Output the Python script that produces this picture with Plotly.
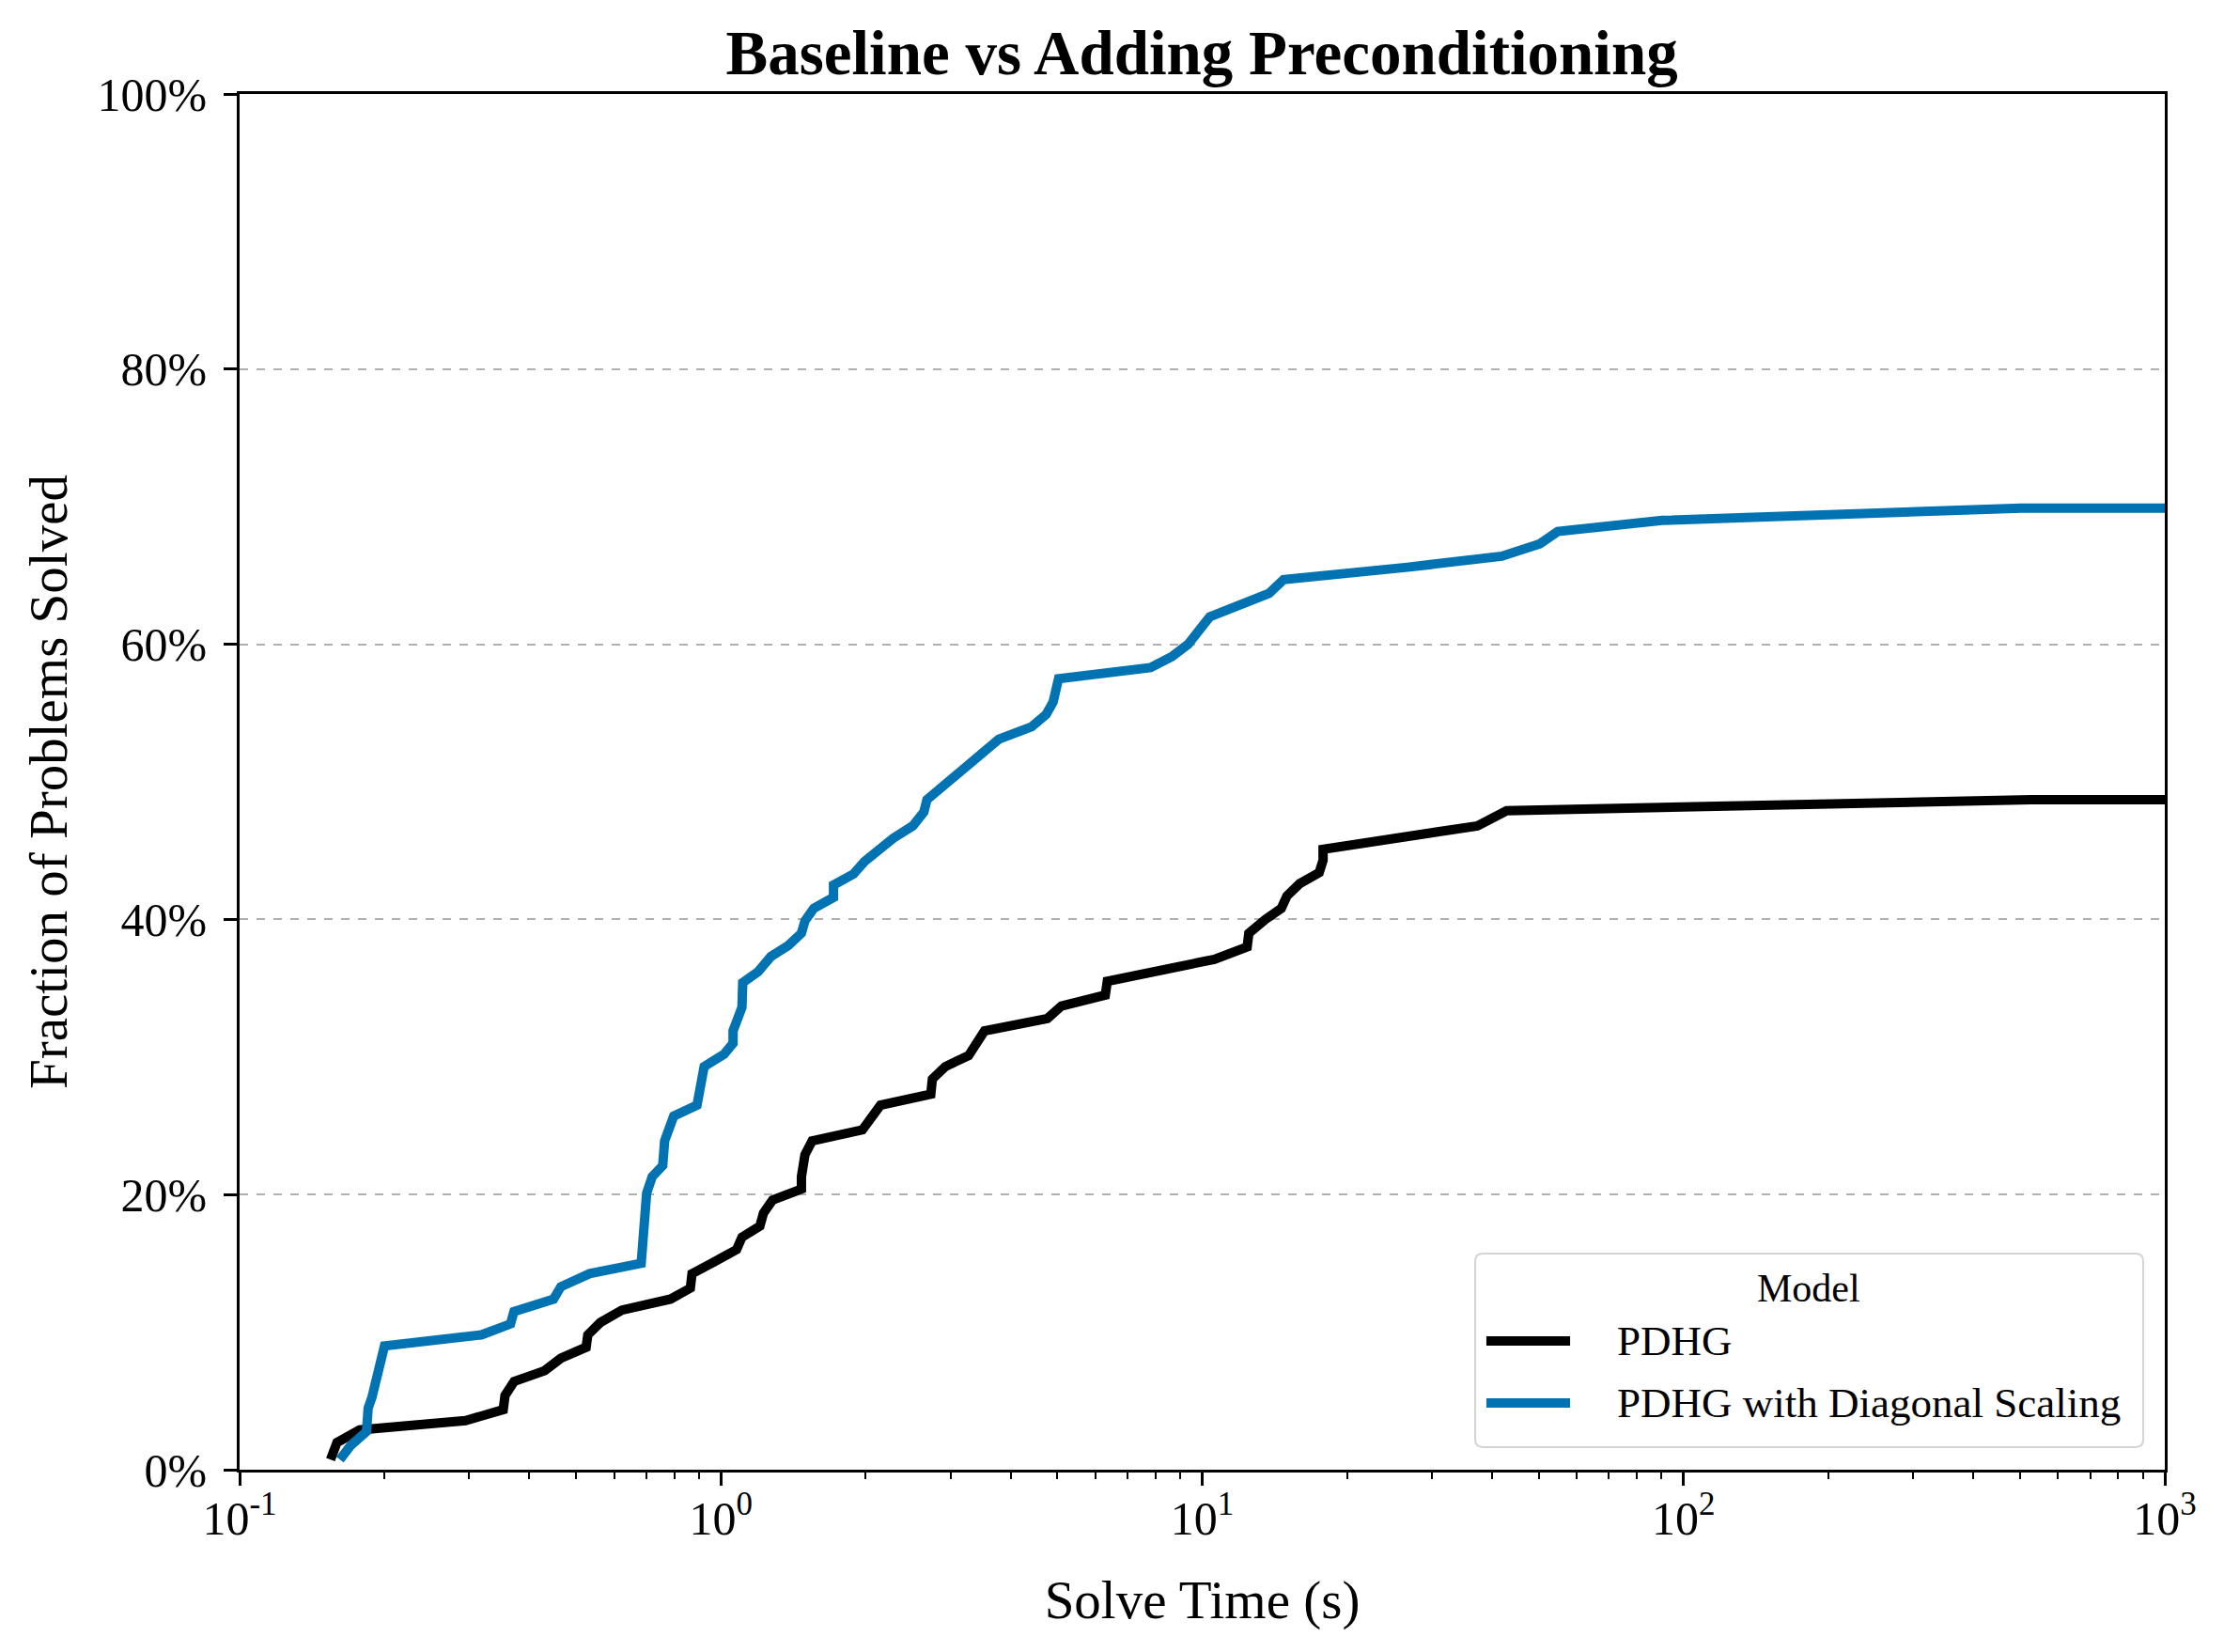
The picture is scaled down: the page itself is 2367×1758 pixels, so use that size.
import plotly.graph_objects as go

# Solve time (s) and fraction solved (%) for each model
pdhg_time = [0.1545, 0.1594, 0.1775, 0.2946, 0.353, 0.356, 0.3718, 0.4305, 0.465, 0.5248,
             0.529, 0.5618, 0.6228, 0.786, 0.864, 0.871, 0.956, 1.078, 1.106, 1.205,
             1.226, 1.28, 1.47, 1.47, 1.495, 1.547, 1.968, 2.146, 2.73, 2.75,
             2.925, 3.27, 3.53, 4.77, 5.1, 6.29, 6.35, 8.01, 10.6, 12.4,
             12.5, 13.53, 14.6, 15.0, 15.94, 17.5, 17.83, 17.83, 37.3, 42.9,
             528, 1000]
pdhg_frac = [0.73, 1.98, 2.89, 3.57, 4.36, 5.39, 6.41, 7.2, 8.1, 8.9,
             9.8, 10.7, 11.6, 12.4, 13.2, 14.25, 15.0, 16.0, 16.9, 17.7,
             18.65, 19.6, 20.4, 21.3, 22.9, 23.9, 24.7, 26.5, 27.3, 28.4,
             29.3, 30.1, 31.9, 32.8, 33.7, 34.5, 35.5, 36.2, 37.1, 38.0,
             39.0, 40.0, 40.8, 41.7, 42.6, 43.4, 44.3, 45.1, 46.8, 47.9,
             48.7, 48.7]

diag_time = [0.1616, 0.170, 0.1835, 0.185, 0.1884, 0.1916, 0.1967, 0.2, 0.318, 0.3655,
             0.3716, 0.449, 0.465, 0.5336, 0.683, 0.691, 0.697, 0.701, 0.72, 0.757,
             0.764, 0.798, 0.892, 0.923, 1.015, 1.06, 1.06, 1.106, 1.11, 1.195,
             1.27, 1.38, 1.47, 1.495, 1.56, 1.714, 1.714, 1.886, 1.987, 2.28,
             2.505, 2.64, 2.68, 2.85, 3.0, 3.24, 3.53, 3.78, 4.42, 4.74,
             4.90, 5.03, 7.81, 8.65, 9.35, 9.85, 10.37, 13.77, 14.76, 26.7,
             41.9, 50.3, 54.8, 90.3, 503, 1000]
diag_frac = [0.73, 1.75, 2.77, 4.48, 5.27, 6.5, 8.1, 9.0, 9.8, 10.6,
             11.5, 12.4, 13.3, 14.25, 15.0, 18.6, 19.4, 20.1, 21.3, 22.1,
             23.9, 25.7, 26.5, 29.3, 30.2, 31.0, 31.9, 33.6, 35.4, 36.2,
             37.3, 38.1, 39.0, 39.9, 40.8, 41.6, 42.5, 43.3, 44.2, 45.9,
             46.8, 47.8, 48.7, 49.5, 50.3, 51.2, 52.2, 53.1, 54.0, 54.9,
             55.8, 57.5, 58.3, 59.1, 60.0, 60.9, 62.0, 63.7, 64.7, 65.6,
             66.4, 67.3, 68.2, 69.0, 69.9, 69.9]

series_names = ["PDHG", "PDHG with Diagonal Scaling"]
series_colors = ["#000000", "#0173B2"]
legend_title = "Model"

x_major = [0.1, 1, 10, 100, 1000]
x_major_text = ["10<sup>-1</sup>", "10<sup>0</sup>", "10<sup>1</sup>", "10<sup>2</sup>", "10<sup>3</sup>"]
x_minor = [m * d for d in [0.1, 1, 10, 100] for m in range(2, 10)]
y_ticks = [0, 20, 40, 60, 80, 100]
y_tick_text = ["0%", "20%", "40%", "60%", "80%", "100%"]

FONT = "Liberation Serif, Times New Roman, serif"
LW = 10

fig = go.Figure()
for name, xs, ys, col in [(series_names[0], pdhg_time, pdhg_frac, series_colors[0]),
                          (series_names[1], diag_time, diag_frac, series_colors[1])]:
    fig.add_trace(go.Scatter(x=xs, y=ys, mode="lines", name=name,
                             line=dict(color=col, width=LW), showlegend=False))

# Legend drawn in paper coordinates (box, title, swatches, labels)
bx0, bx1, by0, by1 = 0.6418, 0.9888, 0.0164, 0.1571
rx, ry = 0.004, 0.0056
box_path = (f"M{bx0+rx},{by0} L{bx1-rx},{by0} Q{bx1},{by0} {bx1},{by0+ry} "
            f"L{bx1},{by1-ry} Q{bx1},{by1} {bx1-rx},{by1} L{bx0+rx},{by1} "
            f"Q{bx0},{by1} {bx0},{by1-ry} L{bx0},{by0+ry} Q{bx0},{by0} {bx0+rx},{by0} Z")
fig.add_shape(type="path", path=box_path, xref="paper", yref="paper",
              line=dict(color="#d4d4d4", width=2), fillcolor="rgba(255,255,255,0.8)", layer="above")
fig.add_annotation(text=legend_title, x=0.815, y=0.1318, xref="paper", yref="paper",
                   showarrow=False, xanchor="center", yanchor="middle",
                   font=dict(family=FONT, size=42, color="black"))
for yy, name, col in [(0.0936, series_names[0], series_colors[0]),
                      (0.0485, series_names[1], series_colors[1])]:
    fig.add_shape(type="line", x0=0.6476, x1=0.6911, y0=yy, y1=yy, xref="paper", yref="paper",
                  line=dict(color=col, width=LW), layer="above")
    fig.add_annotation(text=name, x=0.7145, y=yy, xref="paper", yref="paper",
                       showarrow=False, xanchor="left", yanchor="middle",
                       font=dict(family=FONT, size=45, color="black"))

fig.update_layout(
    width=2367, height=1758,
    paper_bgcolor="white", plot_bgcolor="white",
    margin=dict(l=247, r=71, t=92, b=202),
    font=dict(family=FONT, color="black", size=50),
    title=dict(text="<b>Baseline vs Adding Preconditioning</b>",
               font=dict(family=FONT, size=67, color="black"),
               x=0.537, xanchor="center", xref="container",
               y=1 - 48 / 1758, yanchor="middle", yref="container"),
    showlegend=False,
)

fig.update_xaxes(
    type="log", range=[-1, 3],
    tickvals=x_major, ticktext=x_major_text,
    ticks="outside", ticklen=14, tickwidth=2.5, tickcolor="black",
    minor=dict(tickvals=x_minor, ticks="outside", ticklen=7, tickwidth=2, tickcolor="black", showgrid=False),
    showline=True, linecolor="black", linewidth=2.5, mirror=True,
    showgrid=False, zeroline=False, ticklabelstandoff=-8,
    tickfont=dict(family=FONT, size=50),
    title=dict(text="Solve Time (s)", font=dict(family=FONT, size=57), standoff=40),
)
fig.update_yaxes(
    range=[0, 100], tickvals=y_ticks, ticktext=y_tick_text,
    ticks="outside", ticklen=14, tickwidth=2.5, tickcolor="black",
    showline=True, linecolor="black", linewidth=2.5, mirror=True,
    showgrid=True, gridcolor="#b0b0b0", gridwidth=1.5, griddash="dash",
    zeroline=False, ticklabelstandoff=8,
    tickfont=dict(family=FONT, size=50),
    title=dict(text="Fraction of Problems Solved", font=dict(family=FONT, size=57), standoff=14),
)

fig.write_html("out.html")
